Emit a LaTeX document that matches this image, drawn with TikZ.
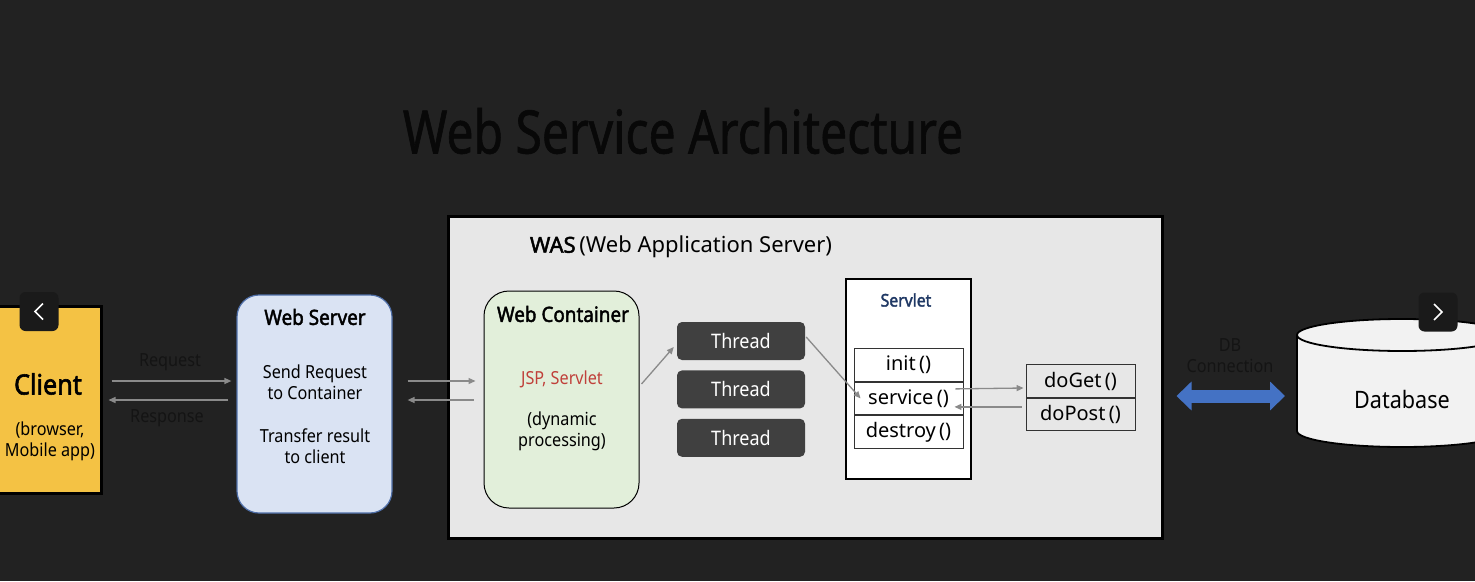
\documentclass[tikz,border=0pt]{standalone}
\usepackage{fontspec}
\setmainfont[FakeStretch=0.9, BoldFont={Noto Sans}, BoldFeatures={FakeBold=2}]{Noto Sans}
\usetikzlibrary{arrows.meta,positioning,calc}

\definecolor{bgdark}{HTML}{222222}
\definecolor{titleblack}{HTML}{080808}
\definecolor{labelblack}{HTML}{141414}
\definecolor{clientyellow}{HTML}{F4C244}
\definecolor{serverblue}{HTML}{DAE3F3}
\definecolor{serverborder}{HTML}{4F6FA8}
\definecolor{wasgray}{HTML}{E7E7E7}
\definecolor{containergreen}{HTML}{E2EFDA}
\definecolor{threadgray}{HTML}{404040}
\definecolor{servletnavy}{HTML}{1F3864}
\definecolor{jspred}{HTML}{C0403A}
\definecolor{flowgray}{HTML}{8A8A8A}
\definecolor{dbblue}{HTML}{4472C4}
\definecolor{dbwhite}{HTML}{F2F2F2}
\definecolor{navdark}{HTML}{1A1A1A}

\tikzset{
  box/.style={draw, inner sep=0pt},
  txt/.style={font=\fontsize{18}{21}\selectfont, text=black},
  label/.style={font=\fontsize{18}{21}\selectfont, text=labelblack},
  heading/.style={font=\bfseries\fontsize{21}{25}\selectfont, text=black},
  flow/.style={draw=flowgray, line width=1.3pt, -{Triangle[length=7pt,width=6pt]}},
  thread/.style={fill=threadgray, rounded corners=5pt, minimum width=128pt, minimum height=38pt,
    text=white, font=\fontsize{20}{24}\selectfont},
  method/.style={draw=black!80, fill=white, line width=0.9pt, minimum width=109pt,
    minimum height=32.5pt, inner sep=0pt, font=\fontsize{20}{23}\selectfont\addfontfeatures{FakeStretch=1}},
  navbtn/.style={fill=navdark, rounded corners=6pt, minimum width=39pt, minimum height=39pt}
}

\begin{document}
\begin{tikzpicture}[x=1pt,y=-1pt]
  \clip (0,0) rectangle (1475,581);
  \fill[bgdark] (0,0) rectangle (1475,581);

  % title
  \node[font=\fontsize{60}{70}\selectfont\addfontfeatures{FakeStretch=0.8, FakeBold=1}, text=titleblack] (title) at (683,131) {Web Service Architecture};

  % client
  \node[box, fill=clientyellow, line width=3pt, minimum width=110pt, minimum height=187pt] (client) at (46,400) {};
  \node[font=\bfseries\fontsize{28}{32}\selectfont] (clientname) at (48,384) {Client};
  \node[txt, align=center] (clientkind) at (50,441) {(browser,\\Mobile app)};
  \node[navbtn] (navleft) at (39,311.5) {};
  \draw[white, line width=1.5pt] ([shift={(4pt,8pt)}]navleft.center) -- ([xshift=-4pt]navleft.center)
    -- ([shift={(4pt,-8pt)}]navleft.center);

  % web server
  \node[box, rounded corners=22pt, fill=serverblue, draw=serverborder, line width=1.2pt,
    minimum width=155pt, minimum height=218pt] (webserver) at (314.5,404) {};
  \node[heading] (wstitle) at (315,317) {Web Server};
  \node[txt, align=center] (wssend) at (315,382.5) {Send Request\\to Container};
  \node[txt, align=center] (wsback) at (315,446.5) {Transfer result\\to client};

  % WAS
  \node[box, fill=wasgray, line width=3pt, minimum width=714pt, minimum height=322pt] (was) at (805,377) {};
  \node[font=\fontsize{22}{26}\selectfont\addfontfeatures{FakeStretch=1}] (wastitle) at (681,247) {\textbf{WAS}\,(Web Application Server)};

  % web container
  \node[box, rounded corners=25pt, fill=containergreen, line width=1pt,
    minimum width=155pt, minimum height=217pt] (container) at (561.5,399.5) {};
  \node[heading] (wctitle) at (563,314) {Web Container};
  \node[txt, text=jspred] (jsp) at (562,379) {JSP, Servlet};
  \node[txt, align=center] (dynamic) at (562,431.5) {(dynamic\\processing)};

  % threads
  \node[thread] (thread1) at (741,341) {Thread};
  \node[thread, below=10pt of thread1] (thread2) {Thread};
  \node[thread, below=10pt of thread2] (thread3) {Thread};

  % servlet
  \node[box, fill=white, line width=1.5pt, minimum width=125pt, minimum height=200pt] (servlet) at (908.5,379) {};
  \node[font=\bfseries\fontsize{17.5}{21}\selectfont, text=servletnavy] (sltitle) at (906,300) {Servlet};
  \node[method] (init) at (908.5,365) {init\,()};
  \node[method, below=0pt of init] (service) {service\,()};
  \node[method, below=0pt of service] (destroy) {destroy\,()};

  \node[method, fill=none] (doget) at (1080.5,381) {doGet\,()};
  \node[method, fill=none, below=0pt of doget] (dopost) {doPost\,()};

  % request / response
  \draw[flow] ([shift={(9pt,19pt)}]client.east) -- ([shift={(-5pt,23pt)}]webserver.west);
  \draw[flow] ([shift={(-8pt,4pt)}]webserver.west) -- ([xshift=6pt]client.east);
  \node[label] (req) at (170,362) {Request};
  \node[label] (res) at (167,418) {Response};

  \draw[flow] ([shift={(15pt,23pt)}]webserver.east) -- ([shift={(-8pt,18.5pt)}]container.west);
  \draw[flow] ([shift={(-10pt,-0.5pt)}]container.west) -- ([shift={(15pt,4pt)}]webserver.east);

  \draw[flow] ([shift={(2pt,15.5pt)}]container.east) -- ([shift={(-3pt,-6pt)}]thread1.west);
  \draw[flow] ([shift={(1pt,4pt)}]thread1.east) -- ([xshift=7pt]service.west);

  \draw[flow] ([shift={(-8pt,9.5pt)}]service.east) -- ([shift={(-2pt,-7pt)}]doget.west);
  \draw[flow] ([shift={(-4pt,7.5pt)}]dopost.west) -- ([shift={(-9pt,-8.5pt)}]service.east);

  % database
  \filldraw[fill=dbwhite, draw=black, line width=1.8pt] (1297,335) -- (1297,431)
    arc[start angle=180, end angle=360, x radius=105pt, y radius=16pt] -- (1507,335)
    arc[start angle=0, end angle=180, x radius=105pt, y radius=16pt] -- cycle;
  \draw[black, line width=1.8pt] (1297,335) arc[start angle=180, end angle=360, x radius=105pt, y radius=16pt];
  \coordinate (dbleft) at (1297,396);
  \node[font=\fontsize{24}{28}\selectfont] (dbname) at (1402,399) {Database};

  \node[label, align=center, text depth=0pt] (dbconn) at (1230,356) {DB\\Connection};
  \draw[draw=dbblue, line width=13pt, {Triangle[length=15pt,width=28pt]}-{Triangle[length=15pt,width=28pt]}]
    ([shift={(13pt,-19pt)}]was.east) -- ([xshift=-12pt]dbleft);

  \node[navbtn] (navright) at (1438,312) {};
  \draw[white, line width=1.5pt] ([shift={(-4pt,8pt)}]navright.center) -- ([xshift=4pt]navright.center)
    -- ([shift={(-4pt,-8pt)}]navright.center);
\end{tikzpicture}
\end{document}
